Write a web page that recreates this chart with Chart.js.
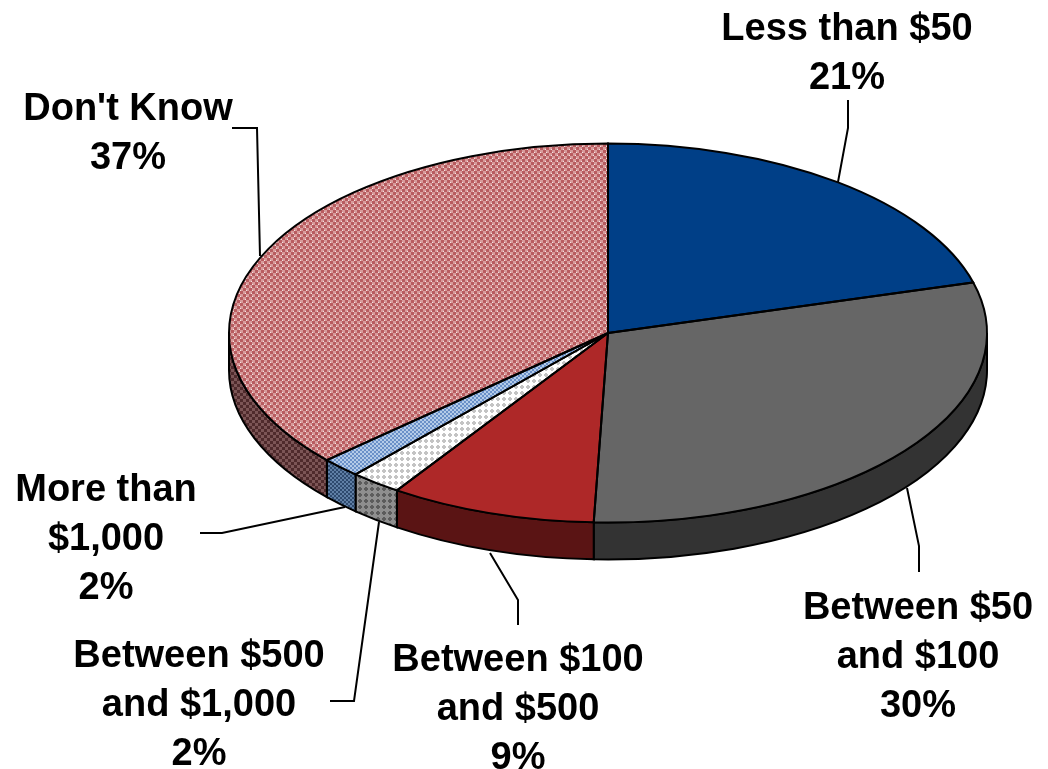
<!DOCTYPE html>
<html>
<head>
<meta charset="utf-8">
<style>
  html, body { margin: 0; padding: 0; background: #fff; }
  canvas { display: block; }
</style>
<script src="https://cdn.jsdelivr.net/npm/chart.js@4"></script>
</head>
<body>
<canvas id="pie" width="1048" height="769"></canvas>
<script>
// data
const categories = ['Less than $50', 'Between $50 and $100', 'Between $100 and $500', 'Between $500 and $1,000', 'More than $1,000', "Don't Know"];
const values = [20.7, 29.9, 8.8, 2.2, 1.7, 36.7];
const labelLines = [['Less than $50'], ['Between $50', 'and $100'], ['Between $100', 'and $500'], ['Between $500', 'and $1,000'], ['More than', '$1,000'], ["Don't Know"]];

// label centre x, first line y, leader polyline
const labelPos = [
    { x: 847, y: 30, leader: [[848, 100], [848, 128], [838, 182]] },
    { x: 918, y: 609, leader: [[919, 572], [919, 546], [907, 488]] },
    { x: 518, y: 661, leader: [[518, 625], [518, 600], [490, 553]] },
    { x: 199, y: 657, leader: [[330, 701], [354, 701], [379, 522]] },
    { x: 106, y: 491, leader: [[200, 533], [222, 533], [345, 507]] },
    { x: 128, y: 110, leader: [[232, 128], [257, 128], [260, 256]] }
];

const Y_SCALE = 0.5;      // squash of the pie into an ellipse
const CENTER_Y = 333;     // centre of the top face on screen
const DEPTH = 37;         // height of the side wall

// small pixel tiles for the hatched slices
function tile(rows, colors) {
    const c = document.createElement('canvas');
    c.width = rows[0].length;
    c.height = rows.length;
    const g = c.getContext('2d');
    rows.forEach((row, y) => {
        [...row].forEach((ch, x) => {
            g.fillStyle = colors[ch];
            g.fillRect(x, y, 1, 1);
        });
    });
    const p = g.createPattern(c, 'repeat');
    p.setTransform(new DOMMatrix().scale(1, 1 / Y_SCALE));
    return p;
}
const CHECK = ['aaabbb', 'aaabbb', 'aaabbc', 'bbbaaa', 'bbbaaa', 'cbbaaa'];
const FINE = ['aabb', 'aabb', 'bbaa', 'bbaa'];
const DIAMOND = ['aabbaa', 'abbbba', 'bbbbbb', 'bbbbbb', 'abbbba', 'aabbaa'];

const topColors = [
    '#003f87',
    '#666666',
    '#ae2828',
    tile(DIAMOND, { a: '#c4c4c4', b: '#ffffff' }),
    tile(FINE, { a: '#6a90c8', b: '#b4cbe8' }),
    tile(CHECK, { a: '#b85c60', b: '#d89c9c', c: '#f4e4e4' })
];
const wallColors = [
    '#00234b',
    '#333333',
    '#5a1414',
    tile(DIAMOND, { a: '#5c5c5c', b: '#8f8f8f' }),
    tile(FINE, { a: '#2e4a6e', b: '#5f7fa5' }),
    tile(CHECK, { a: '#4f2a2c', b: '#7c5556', c: '#7c5556' })
];

function squash(ctx, arc) {
    ctx.translate(0, CENTER_Y);
    ctx.scale(1, Y_SCALE);
    ctx.translate(0, -arc.y);
}

const pie3d = {
    id: 'pie3d',
    beforeDatasetsDraw(chart) {
        const ctx = chart.ctx;
        const arcs = chart.getDatasetMeta(0).data;
        // side walls, only the half facing the viewer
        arcs.forEach((arc, i) => {
            const s = Math.max(arc.startAngle, 0);
            const e = Math.min(arc.endAngle, Math.PI);
            if (s >= e) return;
            const r = arc.outerRadius;
            ctx.save();
            squash(ctx, arc);
            ctx.beginPath();
            ctx.arc(arc.x, arc.y, r, s, e);
            ctx.arc(arc.x, arc.y + DEPTH / Y_SCALE, r, e, s, true);
            ctx.closePath();
            ctx.fillStyle = wallColors[i];
            ctx.fill();
            ctx.restore();   // stroke after restore so the pen is not squashed
            ctx.strokeStyle = '#000';
            ctx.lineWidth = 2;
            ctx.stroke();
        });
        ctx.save();
        squash(ctx, arcs[0]);
    },
    afterDatasetsDraw(chart) {
        const ctx = chart.ctx;
        ctx.restore();
        // slice outlines
        chart.getDatasetMeta(0).data.forEach(arc => {
            ctx.save();
            squash(ctx, arc);
            ctx.beginPath();
            ctx.moveTo(arc.x, arc.y);
            ctx.arc(arc.x, arc.y, arc.outerRadius, arc.startAngle, arc.endAngle);
            ctx.closePath();
            ctx.restore();
            ctx.strokeStyle = '#000';
            ctx.lineWidth = 2;
            ctx.stroke();
        });
    },
    afterDraw(chart) {
        const ctx = chart.ctx;
        ctx.save();
        // leader lines
        ctx.strokeStyle = '#000';
        ctx.lineWidth = 2;
        labelPos.forEach(p => {
            ctx.beginPath();
            p.leader.forEach((pt, i) => i ? ctx.lineTo(pt[0], pt[1]) : ctx.moveTo(pt[0], pt[1]));
            ctx.stroke();
        });
        // labels
        ctx.fillStyle = '#000';
        ctx.font = 'bold 38px "Liberation Sans", Arial, sans-serif';
        ctx.textAlign = 'center';
        ctx.textBaseline = 'middle';
        labelPos.forEach((p, i) => {
            const lines = labelLines[i].concat(Math.round(values[i]) + '%');
            lines.forEach((t, k) => ctx.fillText(t, p.x, p.y + k * 48.7));
        });
        ctx.restore();
    }
};

new Chart(document.getElementById('pie'), {
    type: 'pie',
    data: {
        labels: categories,
        datasets: [{ data: values, backgroundColor: topColors, borderWidth: 0 }]
    },
    options: {
        responsive: false,
        animation: false,
        layout: { padding: { left: 229, right: 61, top: 5, bottom: 6 } },
        plugins: { legend: { display: false }, tooltip: { enabled: false } }
    },
    plugins: [pie3d]
});
</script>
</body>
</html>
